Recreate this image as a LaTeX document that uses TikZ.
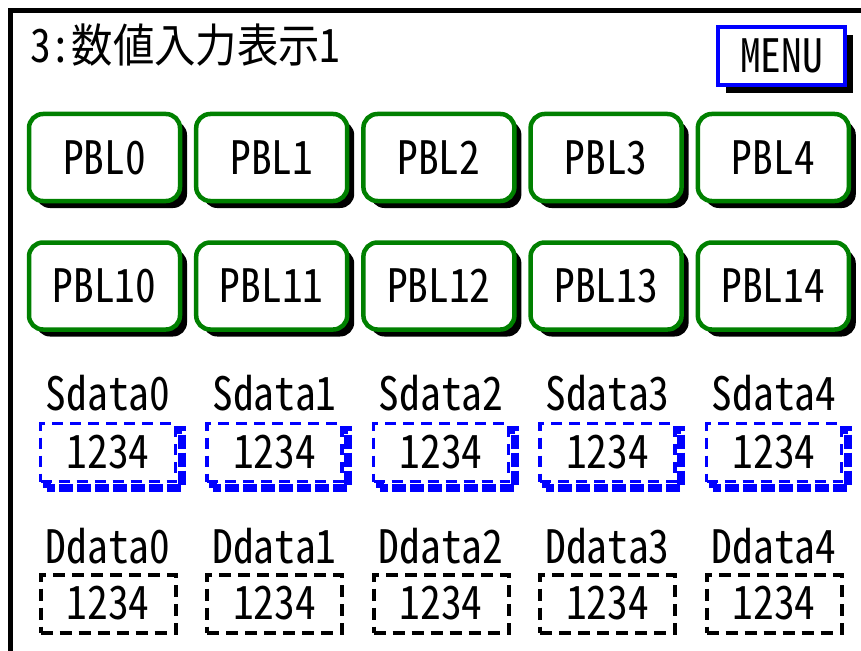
\documentclass[tikz,border=0pt]{standalone}
\usepackage{fontspec}
\setmainfont{Noto Sans CJK JP}[RawFeature=+hwid, FakeStretch=0.9]
\usetikzlibrary{shadows,backgrounds}
\definecolor{pbgreen}{RGB}{0,128,0}

\begin{document}
\begin{tikzpicture}[x=1pt, y=-1pt,
    every node/.style={font=\fontsize{46}{52}\selectfont, inner sep=0pt},
    pbl/.style={draw=pbgreen, line width=4.5pt, fill=white, rounded corners=14pt,
        minimum width=151pt, minimum height=87pt,
        drop shadow={shadow xshift=7pt, shadow yshift=-7pt, fill=black, opacity=1}},
    menubtn/.style={draw=blue, line width=4.5pt, fill=white,
        minimum width=127pt, minimum height=58pt,
        drop shadow={shadow xshift=8pt, shadow yshift=-8pt, fill=black, opacity=1}},
    sbox/.style={draw=blue, line width=3.5pt, fill=white, dash pattern=on 11pt off 7pt,
        minimum width=135pt, minimum height=58pt, outer sep=0pt},
    sshade/.style={draw=blue, line width=8pt, dash pattern=on 14pt off 4pt},
    dbox/.style={draw=black, line width=4pt, dash pattern=on 12pt off 7pt,
        minimum width=135pt, minimum height=58pt}]
    \useasboundingbox (0,0) rectangle (861,650);

    % Rahmen
    \draw[line width=5pt] (10.5,670) -- (10.5,10.5) -- (880,10.5);

    % Titel
    \node[anchor=west] (title) at (30,45) {3:数値入力表示1};

    % MENU
    \node[menubtn] (menu) at (781.5,56) {MENU};

    % PBL Reihe 1
    \node[pbl] (pbl0) at (104.5,157.5) {PBL0};
    \node[pbl] (pbl1) at (271.7,157.5) {PBL1};
    \node[pbl] (pbl2) at (438.9,157.5) {PBL2};
    \node[pbl] (pbl3) at (606.1,157.5) {PBL3};
    \node[pbl] (pbl4) at (773.3,157.5) {PBL4};

    % PBL Reihe 2
    \node[pbl] (pbl10) at (104.5,286) {PBL10};
    \node[pbl] (pbl11) at (271.7,286) {PBL11};
    \node[pbl] (pbl12) at (438.9,286) {PBL12};
    \node[pbl] (pbl13) at (606.1,286) {PBL13};
    \node[pbl] (pbl14) at (773.3,286) {PBL14};

    % Sdata
    \node (slbl0) at (108,393) {Sdata0};
    \node (slbl1) at (274.5,393) {Sdata1};
    \node (slbl2) at (441,393) {Sdata2};
    \node (slbl3) at (607.5,393) {Sdata3};
    \node (slbl4) at (774,393) {Sdata4};
    \node[sbox] (sdata0) at (108,452.5) {1234};
    \node[sbox] (sdata1) at (274.5,452.5) {1234};
    \node[sbox] (sdata2) at (441,452.5) {1234};
    \node[sbox] (sdata3) at (607.5,452.5) {1234};
    \node[sbox] (sdata4) at (774,452.5) {1234};
    % Schatten Sdata
    \begin{scope}[on background layer]
        \foreach \s in {sdata0,sdata1,sdata2,sdata3,sdata4}
            \draw[sshade] ([shift={(6pt,-6pt)}]\s.south west) rectangle ([shift={(6pt,-6pt)}]\s.north east);
    \end{scope}

    % Ddata
    \node (dlbl0) at (108,546) {Ddata0};
    \node (dlbl1) at (274.5,546) {Ddata1};
    \node (dlbl2) at (441,546) {Ddata2};
    \node (dlbl3) at (607.5,546) {Ddata3};
    \node (dlbl4) at (774,546) {Ddata4};
    \node[dbox] (ddata0) at (108,603.5) {1234};
    \node[dbox] (ddata1) at (274.5,603.5) {1234};
    \node[dbox] (ddata2) at (441,603.5) {1234};
    \node[dbox] (ddata3) at (607.5,603.5) {1234};
    \node[dbox] (ddata4) at (774,603.5) {1234};

\end{tikzpicture}
\end{document}
